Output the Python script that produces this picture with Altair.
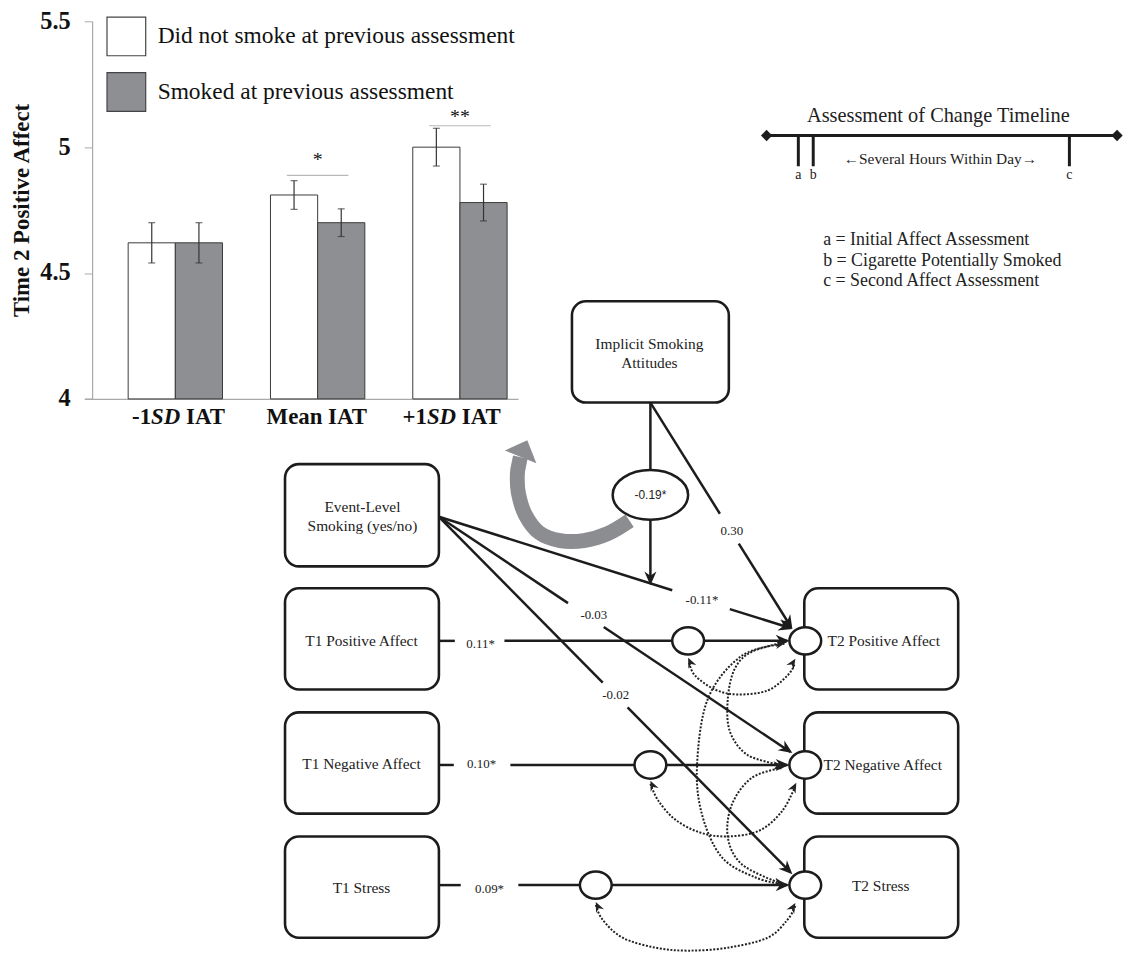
import altair as alt
import pandas as pd

W, H = 1124, 949
SERIF = "Liberation Serif"
SANS = "Liberation Sans"
INK = "#1c1c1c"

# ---------------- bar chart data ----------------
categories = ["-1SD IAT", "Mean IAT", "+1SD IAT"]
groups = ["Did not smoke at previous assessment", "Smoked at previous assessment"]
nonsmoker_mean = [4.62, 4.81, 5.00]
nonsmoker_err = [0.08, 0.057, 0.075]
smoker_mean = [4.62, 4.70, 4.78]
smoker_err = [0.08, 0.055, 0.073]
sig_categories = ["Mean IAT", "+1SD IAT"]
sig_level = [4.888, 5.085]
star_level = [4.948, 5.118]
sig_text = ["*", "**"]
y_ticks = [4, 4.5, 5, 5.5]

# category label pieces: (category, text, italic, dx offset of left edge)
label_cat = ["-1SD IAT", "-1SD IAT", "-1SD IAT", "Mean IAT", "+1SD IAT", "+1SD IAT", "+1SD IAT"]
label_txt = ["-1", "SD", "IAT", "Mean IAT", "+1", "SD", "IAT"]
label_ital = [False, True, False, False, False, True, False]
label_dx = [-43.6, -24.4, 10.75, -51.4, -57.9, -33.3, 1.85]

# ---------------- diagram data (figure pixel coordinates) ----------------
box_x0 = [576, 287, 287, 287, 287, 810, 810, 810]
box_x1 = [734, 442, 442, 442, 442, 965, 965, 965]
box_y0 = [300, 464, 589, 714, 839, 589, 714, 839]
box_y1 = [402, 567, 691, 816, 941, 691, 816, 941]

box_text = ["Implicit Smoking", "Attitudes", "Event-Level", "Smoking (yes/no)",
            "T1 Positive Affect", "T1 Negative Affect", "T1 Stress",
            "T2 Positive Affect", "T2 Negative Affect", "T2 Stress"]
box_text_x = [654, 654, 365, 365, 364, 364, 364, 890, 889, 887]
box_text_y = [343, 362, 507, 526, 642, 766, 891, 642, 767, 889]

seg_x1 = [655, 655, 655, 744, 442, 735, 442, 608, 442, 632, 442, 508, 709, 442, 514, 671, 442, 522, 616]
seg_y1 = [402, 520, 402, 544, 517, 610, 517, 628, 517, 709, 642, 642, 642, 767, 767, 767, 888, 888, 888]
seg_x2 = [655, 655, 725, 796, 677, 796, 572, 796, 607, 796, 458, 677, 793, 457, 639, 793, 464, 584, 793]
seg_y2 = [470, 582, 514, 627, 591, 629, 604, 754, 684, 875, 642, 642, 642, 767, 767, 767, 888, 888, 888]

head_x = [655, 798, 798, 798, 798, 795, 795, 795]
head_y = [586, 630, 630, 755, 877, 642, 767, 888]
head_angle = [180, 148, 108, 124, 135, 90, 90, 90]

path_label = ["0.30", "-0.11*", "-0.03", "-0.02", "0.11*", "0.10*", "0.09*"]
path_label_x = [737, 707, 598, 620, 484, 485, 493]
path_label_y = [531, 601, 616, 697, 645, 766, 892]

small_ell_x = [693, 655, 600, 811, 811, 811]
small_ell_y = [642, 767, 888, 642, 767, 888]

mod_x = [655]
mod_y = [495]
mod_text = ["-0.19*"]

curve_A = [(694, 664), (700, 677), (720, 691), (743, 696), (773, 692), (793, 677), (800, 666)]
curve_B = [(655, 786), (663, 803), (680, 822), (705, 835), (733, 839), (765, 833), (788, 813), (801, 788)]
curve_C = [(600, 908), (607, 923), (627, 941), (660, 951), (693, 954), (733, 951), (773, 941), (793, 923), (801, 909)]
curve_D = [(792, 643), (757, 653), (740, 670), (733, 700), (735, 733), (753, 757), (787, 767)]
curve_E = [(787, 770), (757, 780), (737, 807), (733, 840), (747, 867), (783, 885)]
curve_F = [(790, 645), (747, 657), (713, 700), (702, 767), (707, 817), (727, 860), (760, 880), (787, 887)]

dot_head_x = [693, 801, 655, 802, 600, 801, 791, 789, 790]
dot_head_y = [659, 660, 783, 785, 905, 906, 644, 768, 887]
dot_head_angle = [335, 32, 335, 28, 335, 30, 80, 92, 102]

swoosh_x = [634, 612, 588, 564, 543, 529, 522, 521, 523, 524]
swoosh_y = [521, 534, 541, 541, 533, 515, 493, 474, 462, 457]
swoosh_head = (531, 440, 22)

tl_seg_x1 = [772, 804, 819, 1077]
tl_seg_y1 = [133, 134, 134, 134]
tl_seg_x2 = [1125, 804, 819, 1077]
tl_seg_y2 = [133, 164, 164, 164]
tl_diamond_x = [772, 1125]
tl_diamond_y = [133, 133]
tl_letters = ["a", "b", "c"]
tl_letter_x = [804, 819, 1077]
tl_letter_y = [173, 173, 173]
tl_title = "Assessment of Change Timeline"
tl_title_xy = (945, 113)
tl_span = "\u2190Several Hours Within Day\u2192"
tl_span_xy = (947, 157)
tl_key = ["a = Initial Affect Assessment", "b = Cigarette Potentially Smoked", "c = Second Affect Assessment"]
tl_key_x = [829, 829, 829]
tl_key_y = [238, 259, 280]

# ================= bar chart group =================
bar_rows = []
for i, c in enumerate(categories):
    bar_rows.append(dict(cat=c, group=groups[0], mean=nonsmoker_mean[i],
                         lo=nonsmoker_mean[i] - nonsmoker_err[i], hi=nonsmoker_mean[i] + nonsmoker_err[i], base=4))
    bar_rows.append(dict(cat=c, group=groups[1], mean=smoker_mean[i],
                         lo=smoker_mean[i] - smoker_err[i], hi=smoker_mean[i] + smoker_err[i], base=4))
bar_df = pd.DataFrame(bar_rows)
cap_df = pd.concat([bar_df.assign(v=bar_df["lo"]), bar_df.assign(v=bar_df["hi"])])
sig_df = pd.DataFrame(dict(cat=sig_categories, level=sig_level, star=star_level, t=sig_text))
lab_df = pd.DataFrame(dict(cat=label_cat, t=label_txt, ital=label_ital, dx=label_dx, base=4))

x_axis = alt.Axis(orient="bottom", offset=-558.7, labels=False, ticks=False, grid=False,
                  domain=True, domainColor="#a9a9a9", domainWidth=1.2, title=None)
x_scale = alt.Scale(domain=categories, range=[77, 513.7], paddingInner=0.337,
                    paddingOuter=0.192, align=0.8)
y_axis = alt.Axis(orient="left", offset=-84.7, values=y_ticks, format="~g", grid=False,
                  domainColor="#a9a9a9", domainWidth=1.2, tickColor="#a9a9a9", tickSize=8,
                  labelFont=SERIF, labelFontWeight="bold", labelFontSize=24.5, labelColor="#111",
                  labelPadding=14, title="Time 2 Positive Affect", titleFont=SERIF,
                  titleFontWeight="bold", titleFontSize=23, titleColor="#111",
                  titleAngle=270, titleX=-71, titleY=200, titleAlign="center",
                  titleBaseline="middle")
y_scale = alt.Scale(domain=[4, 5.5], range=[390.3, 10], nice=False, zero=False)


def xb():
    return alt.X("cat:N", sort=categories, scale=x_scale, axis=x_axis)


def yb(field):
    return alt.Y(f"{field}:Q", scale=y_scale, axis=y_axis)


xo = alt.XOffset("group:N", scale=alt.Scale(domain=groups, paddingInner=0, paddingOuter=0))

bars = alt.Chart(bar_df).mark_bar(stroke="#3a3a3a", strokeWidth=1).encode(
    x=xb(), xOffset=xo, y=yb("mean"), y2=alt.Y2("base:Q"),
    fill=alt.Fill("group:N", scale=alt.Scale(domain=groups, range=["#ffffff", "#8e8f93"]),
                  legend=alt.Legend(title=None, orient="none", legendX=98.7, legendY=4.7,
                                    symbolType="square", symbolSize=1521,
                                    symbolStrokeColor="#444", symbolStrokeWidth=1.2,
                                    symbolOpacity=1, labelFont=SERIF, labelFontSize=23.6,
                                    labelColor="#111", labelOffset=11, rowPadding=11,
                                    padding=0, labelLimit=600)),
)
err = alt.Chart(bar_df).mark_rule(color="#333", strokeWidth=1.2).encode(
    x=xb(), xOffset=xo, y=yb("lo"), y2=alt.Y2("hi:Q"))
caps = alt.Chart(cap_df).mark_tick(color="#333", size=7, thickness=1.2).encode(
    x=xb(), xOffset=xo, y=yb("v"))
sig_lines = alt.Chart(sig_df).mark_tick(color="#9a9a9a", size=62, thickness=1.2).encode(
    x=xb(), y=yb("level"))
stars = alt.Chart(sig_df).mark_text(font=SERIF, fontSize=20, baseline="middle",
                                     color="#111").encode(x=xb(), y=yb("star"), text="t:N")

label_layers = []
for i in range(len(label_txt)):
    one = lab_df.iloc[[i]]
    label_layers.append(
        alt.Chart(one).mark_text(font=SERIF, fontSize=23, fontWeight="bold",
                                 fontStyle="italic" if label_ital[i] else "normal",
                                 align="left", baseline="middle", dx=label_dx[i], dy=18,
                                 color="#111").encode(x=xb(), y=yb("base"), text="t:N"))

bar_group = alt.layer(bars, err, caps, sig_lines, stars, *label_layers)

# ================= diagram group =================
xs = alt.Scale(domain=[8, 8 + W], range=[0, W], nice=False, zero=False)
ys = alt.Scale(domain=[8, 8 + H], range=[0, H], nice=False, zero=False)


def X(f):
    return alt.X(f"{f}:Q", scale=xs, axis=None)


def Y(f):
    return alt.Y(f"{f}:Q", scale=ys, axis=None)


ARROW = "M0,0 L0.7,1.6 L0,1.1 L-0.7,1.6 Z"


def ellipse_path(k):
    c = 0.5523
    return (f"M-1,0 C-1,{-k*c:.4f} {-c:.4f},{-k:.4f} 0,{-k:.4f} "
            f"C{c:.4f},{-k:.4f} 1,{-k*c:.4f} 1,0 "
            f"C1,{k*c:.4f} {c:.4f},{k:.4f} 0,{k:.4f} "
            f"C{-c:.4f},{k:.4f} -1,{k*c:.4f} -1,0 Z")


box_df = pd.DataFrame(dict(x0=box_x0, x1=box_x1, y0=box_y0, y1=box_y1))
boxes = alt.Chart(box_df).mark_rect(cornerRadius=14, fill="white", stroke=INK, strokeWidth=2.6).encode(
    x=X("x0"), x2="x1:Q", y=Y("y0"), y2="y1:Q")

seg_df = pd.DataFrame(dict(x1=seg_x1, y1=seg_y1, x2=seg_x2, y2=seg_y2))
segs = alt.Chart(seg_df).mark_rule(color=INK, strokeWidth=2.5).encode(
    x=X("x1"), y=Y("y1"), x2="x2:Q", y2="y2:Q")

curve_rows = []
for name, pts in [("A", curve_A), ("B", curve_B), ("C", curve_C),
                  ("D", curve_D), ("E", curve_E), ("F", curve_F)]:
    for k, (px, py) in enumerate(pts):
        curve_rows.append(dict(id=name, k=k, x=px, y=py))
curve_df = pd.DataFrame(curve_rows)
curves = alt.Chart(curve_df).mark_line(strokeDash=[2, 1.6], strokeWidth=2, color="#222",
                                       interpolate="cardinal").encode(
    x=X("x"), y=Y("y"), detail="id:N", order="k:Q")

sw_df = pd.DataFrame(dict(x=swoosh_x, y=swoosh_y, k=list(range(len(swoosh_x)))))
sw_line = alt.Chart(sw_df).mark_line(color="#8c8d91", strokeWidth=15, interpolate="cardinal",
                                     strokeCap="butt", opacity=1).encode(
    x=X("x"), y=Y("y"), order="k:Q")
sw_head_df = pd.DataFrame(dict(x=[swoosh_head[0]], y=[swoosh_head[1]], a=[swoosh_head[2]]))
sw_head = alt.Chart(sw_head_df).mark_point(shape="M0,0 L0.95,1 L-0.95,1 Z", filled=True, fill="#8c8d91",
                                           strokeWidth=0, size=1296, opacity=1).encode(
    x=X("x"), y=Y("y"), angle=alt.Angle("a:Q", scale=None))

ell_df = pd.DataFrame(dict(x=small_ell_x, y=small_ell_y))
ells = alt.Chart(ell_df).mark_point(shape=ellipse_path(0.86), filled=True, fill="white", stroke=INK,
                                    strokeWidth=2.5, size=1024, opacity=1).encode(x=X("x"), y=Y("y"))
mod_df = pd.DataFrame(dict(x=mod_x, y=mod_y, t=mod_text))
mod_ell = alt.Chart(mod_df).mark_point(shape=ellipse_path(0.658), filled=True, fill="white", stroke=INK,
                                       strokeWidth=2.5, size=5776, opacity=1).encode(x=X("x"), y=Y("y"))
mod_txt = alt.Chart(mod_df).mark_text(font=SANS, fontSize=12, color="#222").encode(
    x=X("x"), y=Y("y"), text="t:N")

head_df = pd.DataFrame(dict(x=head_x, y=head_y, a=head_angle))
heads = alt.Chart(head_df).mark_point(shape=ARROW, filled=True, fill=INK, strokeWidth=0,
                                      size=300, opacity=1).encode(
    x=X("x"), y=Y("y"), angle=alt.Angle("a:Q", scale=None))
dh_df = pd.DataFrame(dict(x=dot_head_x, y=dot_head_y, a=dot_head_angle))
dot_heads = alt.Chart(dh_df).mark_point(shape=ARROW, filled=True, fill="#222", strokeWidth=0,
                                        size=160, opacity=1).encode(
    x=X("x"), y=Y("y"), angle=alt.Angle("a:Q", scale=None))

bt_df = pd.DataFrame(dict(x=box_text_x, y=box_text_y, t=box_text))
box_txt = alt.Chart(bt_df).mark_text(font=SERIF, fontSize=15.5, color="#222").encode(
    x=X("x"), y=Y("y"), text="t:N")
pl_df = pd.DataFrame(dict(x=path_label_x, y=path_label_y, t=path_label))
path_txt = alt.Chart(pl_df).mark_text(font=SERIF, fontSize=13, color="#222").encode(
    x=X("x"), y=Y("y"), text="t:N")

# timeline
tl_df = pd.DataFrame(dict(x1=tl_seg_x1, y1=tl_seg_y1, x2=tl_seg_x2, y2=tl_seg_y2))
tl_rules = alt.Chart(tl_df).mark_rule(color=INK, strokeWidth=3).encode(
    x=X("x1"), y=Y("y1"), x2="x2:Q", y2="y2:Q")
tl_dia_df = pd.DataFrame(dict(x=tl_diamond_x, y=tl_diamond_y))
tl_dia = alt.Chart(tl_dia_df).mark_point(shape="diamond", filled=True, fill=INK, strokeWidth=0,
                                         size=130, opacity=1).encode(x=X("x"), y=Y("y"))
tl_let_df = pd.DataFrame(dict(x=tl_letter_x, y=tl_letter_y, t=tl_letters))
tl_let = alt.Chart(tl_let_df).mark_text(font=SERIF, fontSize=14, color="#222").encode(
    x=X("x"), y=Y("y"), text="t:N")
tl_head_df = pd.DataFrame(dict(x=[tl_title_xy[0], tl_span_xy[0]], y=[tl_title_xy[1], tl_span_xy[1]],
                               t=[tl_title, tl_span]))
tl_title_txt = alt.Chart(tl_head_df.iloc[[0]]).mark_text(font=SERIF, fontSize=20.5, color="#222").encode(
    x=X("x"), y=Y("y"), text="t:N")
tl_span_txt = alt.Chart(tl_head_df.iloc[[1]]).mark_text(font=SERIF, fontSize=15.5, color="#222").encode(
    x=X("x"), y=Y("y"), text="t:N")
tl_key_df = pd.DataFrame(dict(x=tl_key_x, y=tl_key_y, t=tl_key))
tl_key_txt = alt.Chart(tl_key_df).mark_text(font=SERIF, fontSize=18, align="left", color="#222").encode(
    x=X("x"), y=Y("y"), text="t:N")

diagram_group = alt.layer(boxes, segs, curves, sw_line, sw_head, ells, mod_ell, mod_txt,
                          heads, dot_heads, box_txt, path_txt,
                          tl_rules, tl_dia, tl_let, tl_title_txt, tl_span_txt, tl_key_txt)

chart = alt.layer(bar_group, diagram_group).resolve_scale(
    x="independent", y="independent"
).properties(
    width=W, height=H, autosize=alt.AutoSizeParams(type="none"), padding=0
).configure_view(stroke=None)

chart.save("out.html", embed_options={"renderer": "svg", "actions": False})
